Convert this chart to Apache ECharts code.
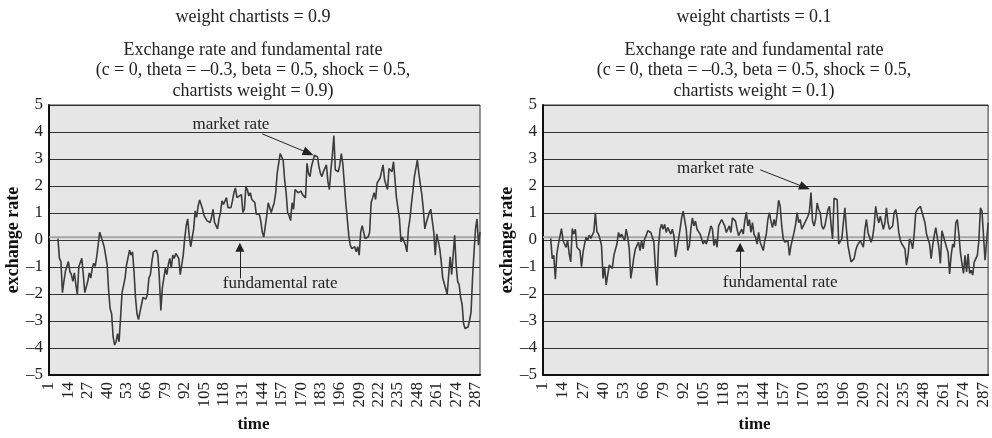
<!DOCTYPE html>
<html><head><meta charset="utf-8">
<script src="https://cdn.jsdelivr.net/npm/echarts@6/dist/echarts.min.js"></script>
<style>html,body{margin:0;padding:0;background:#fff}#c{width:992px;height:438px}</style>
</head><body><div id="c"></div>
<script>
// time axis categories (1..290)
const timeCategories = [];
for (let k = 1; k <= 290; k++) timeCategories.push(String(k));

// chart 1: weight chartists = 0.9  (time index is zero-based position on the time axis)
const leftTimeIdx = [6,7,8,9,10,11,13,14,15,16,17,18,19,20,21,22,23,24,25,26,27,28,29,30,31,32,34,35,36,37,38,39,40,41,42,43,44,45,46,47,48,49,50,51,52,53,54,55,56,57,58,59,60,61,63,64,65,66,67,68,69,70,72,73,74,75,76,77,78,79,80,81,82,83,84,85,86,87,88,89,90,91,92,93,94,95,96,97,98,99,100,101,102,103,104,106,107,108,109,110,111,112,113,114,115,116,117,119,120,121,122,123,124,125,126,127,129,130,131,132,133,134,135,136,138,139,140,141,142,143,144,
145,146,147,148,149,150,151,152,153,154,155,157,158,159,160,161,162,163,164,165,167,168,169,170,171,172,173,174,175,176,177,178,179,180,181,182,183,184,186,187,188,189,190,191,192,193,194,195,196,197,198,199,200,201,202,203,205,206,207,208,209,210,211,212,214,215,216,217,218,219,220,221,222,224,225,226,227,228,229,230,231,233,234,235,236,237,238,239,240,241,242,243,244,245,247,248,249,250,251,252,253,254,255,256,258,259,260,261,262,263,264,265,267,268,269,270,271,272,273,274,275,276,277,278,279,281,282,283,284,285,286,287,288,289];
const leftMarketRate = [0.05,-0.68,-0.80,-1.95,-1.53,-1.16,-0.80,-1.16,-1.28,-1.53,-1.22,-1.65,-2.01,-0.98,-0.92,-0.68,-1.28,-1.95,-1.89,-1.53,-1.22,-1.41,-1.04,-0.86,-0.98,-0.62,0.29,0.11,0.11,-0.25,-0.32,-0.92,-1.89,-2.55,-2.73,-3.59,-3.89,-3.77,-3.47,-3.77,-2.86,-1.95,-1.89,-1.41,-0.92,-0.92,-0.38,-0.56,-0.44,-1.16,-2.13,-2.73,-2.95,-2.67,-2.13,-2.07,-2.19,-2.01,-1.41,-1.28,-0.80,-0.44,-0.38,-0.56,-1.41,-2.61,-1.77,-1.41,-1.04,-1.28,-0.92,-0.68,-1.04,-0.56,-0.68,-0.50,-0.56,-0.68,-1.28,-1.22,-0.56,0.05,0.53,0.78,0.17,-0.25,-0.32,0.41,1.08,0.84,1.26,1.48,1.45,1.14,0.90,0.71,0.78,0.65,0.84,1.14,0.65,0.53,0.41,0.78,1.02,1.45,1.32,1.57,1.20,1.26,1.20,1.45,1.75,1.93,1.57,1.50,1.68,1.02,1.14,1.96,1.87,1.63,1.75,1.50,1.39,0.96,0.90,0.96,0.71,0.29,0.11,
0.17,0.90,1.38,1.32,1.02,1.20,1.38,1.75,2.47,2.84,3.20,2.96,2.23,1.75,1.02,0.90,0.72,1.38,1.14,1.87,1.75,1.75,1.81,1.68,1.75,1.56,2.84,2.47,2.35,2.72,2.72,3.14,3.20,3.08,2.72,2.47,2.35,2.53,2.78,2.17,1.87,2.59,3.14,3.87,2.59,2.53,2.53,2.78,3.20,2.84,2.11,1.38,0.78,0.17,-0.19,-0.32,-0.25,-0.44,-0.25,-0.56,0.29,0.53,0.29,0.05,0.11,0.29,1.38,1.56,1.75,1.50,2.11,2.05,2.29,2.78,2.23,2.05,1.87,2.65,2.72,2.53,2.90,1.56,1.50,0.78,-0.07,0.11,0.05,-0.19,-0.44,0.41,0.78,1.32,1.81,2.35,2.96,2.47,2.05,1.68,1.14,0.41,0.65,0.65,1.02,1.14,0.29,-0.56,0.23,0.23,-0.32,-0.80,-1.41,-1.35,-2.01,-1.28,-0.62,-1.28,-0.56,0.17,-0.92,-1.53,-1.65,-2.13,-2.38,-3.10,-3.28,-3.22,-2.98,-2.68,-1.41,-0.44,0.41,0.78,-0.19,0.29];
// fundamental rate: constant, shown from first to last time step
const fundamentalTimeIdx = [0, 289];
const leftFundamentalRate = [0.1, 0.1];

// chart 2: weight chartists = 0.1
const rightTimeIdx = [5,6,7,8,9,10,12,13,14,15,16,17,18,19,20,21,22,24,25,26,27,28,29,30,31,32,33,34,35,36,37,38,39,40,41,42,43,44,45,46,48,49,50,51,52,53,54,55,56,57,58,59,60,62,63,64,65,66,67,68,69,70,71,72,73,74,75,76,77,78,79,80,81,82,83,84,85,86,87,89,90,91,92,93,94,95,96,97,98,99,100,102,103,104,105,106,107,108,109,110,111,112,113,114,116,117,118,119,120,121,122,123,124,125,126,127,129,130,131,132,133,134,135,136,137,138,139,140,141,143,144,145,
146,147,148,149,150,151,152,153,154,155,156,157,159,160,161,162,163,164,165,166,167,168,169,170,172,173,174,175,176,177,178,179,180,181,182,183,184,185,186,187,188,189,190,191,192,194,195,196,197,198,199,200,201,202,203,204,205,206,208,209,210,211,212,213,214,215,216,217,218,219,221,222,223,224,225,226,227,228,229,230,231,232,233,235,236,237,238,239,240,241,242,243,244,245,246,248,249,250,251,252,253,254,255,256,257,258,259,260,262,263,264,265,266,267,268,269,270,271,272,273,274,275,276,277,278,279,280,281,282,283,284,285,286,287,289];
const rightMarketRate = [0.06,-0.69,-0.57,-1.45,-0.51,-0.15,0.42,-0.02,-0.15,-0.27,-0.02,-0.51,-0.81,0.42,0.22,0.40,-0.27,-0.39,-0.99,-0.45,-0.15,0.10,-0.02,0.18,0.06,0.01,0.30,1.01,0.30,0.22,0.04,-0.21,-1.42,-0.99,-1.66,-1.30,-0.93,-0.87,-1.05,-0.57,-0.15,0.28,0.10,0.22,0.28,-0.02,0.40,0.10,-0.33,-1.42,-1.05,-0.63,-0.33,-0.08,-0.39,-0.02,-0.33,0.04,0.16,0.34,0.40,0.28,0.10,-0.08,-1.05,-1.68,-0.21,0.40,0.58,0.40,0.58,0.28,0.46,0.52,0.22,0.40,0.16,-0.63,-0.33,0.40,0.82,1.07,1.01,0.40,-0.39,-0.21,0.40,0.82,0.52,0.70,0.40,0.22,0.04,-0.15,-0.02,-0.15,0.04,0.04,0.52,0.40,-0.21,0.04,-0.27,0.52,0.76,0.82,0.52,0.28,0.34,0.52,0.28,0.82,0.88,0.70,0.40,0.16,0.40,0.22,0.70,1.03,0.52,0.76,0.28,0.64,0.22,0.10,-0.15,0.28,-0.08,-0.39,-0.02,0.22,
0.76,1.01,0.70,0.46,0.76,0.52,0.95,1.47,1.25,0.52,0.04,-0.08,-0.02,-0.57,-0.21,-0.15,0.28,0.58,1.01,0.64,0.76,0.40,0.52,0.46,0.88,1.07,1.76,0.70,0.52,0.76,1.37,1.13,1.01,0.52,0.40,0.52,0.82,1.13,1.25,0.58,0.04,1.55,1.55,1.49,-0.15,0.04,0.64,1.19,0.40,-0.21,-0.51,-0.81,-0.87,-0.69,-0.39,-0.21,-0.27,-0.02,-0.27,0.40,0.76,0.28,0.10,-0.08,0.10,0.52,1.25,0.88,0.64,0.88,0.40,0.64,1.19,0.64,0.40,0.34,0.52,1.01,1.13,0.82,0.28,-0.02,-0.15,-0.33,-0.93,-0.57,0.04,-0.08,-0.33,0.22,1.01,1.13,1.07,1.25,1.31,0.64,0.22,0.04,-0.15,-0.69,-0.21,0.16,0.46,0.40,-0.27,-0.87,0.34,0.28,-0.27,-0.45,-1.26,-0.57,-0.15,-0.27,0.64,0.76,0.22,-0.45,-0.87,-1.24,-0.57,-1.18,-0.51,-1.24,-1.12,-1.30,-0.81,-0.75,-0.57,-0.02,1.19,1.07,1.07,-0.75,0.64];
const rightFundamentalRate = [0.1, 0.1];

const yTicks = { min: -5, max: 5, interval: 1 };
const FONT = '"Liberation Serif", "Times New Roman", serif';

function pairs(t, v) { return t.map((x, k) => [x, v[k]]); }

function xAxis(gi) {
  return {
    type: 'category', gridIndex: gi, data: timeCategories, boundaryGap: false,
    name: 'time', nameLocation: 'middle', nameGap: 41,
    nameTextStyle: { fontFamily: FONT, fontWeight: 'bold', fontSize: 17, color: '#111', padding: [0, 22, 0, 0] },
    axisLine: { show: true, onZero: false, lineStyle: { color: '#111', width: 2 } },
    axisTick: { show: false },
    axisLabel: { interval: 12, rotate: 90, margin: 7, fontFamily: FONT, fontSize: 17, color: '#222' },
    splitLine: { show: false }
  };
}
function yAxis(gi) {
  return {
    type: 'value', gridIndex: gi, min: yTicks.min, max: yTicks.max, interval: yTicks.interval,
    name: 'exchange rate', nameLocation: 'middle', nameGap: 27, nameRotate: 90,
    nameTextStyle: { fontFamily: FONT, fontWeight: 'bold', fontSize: 18, color: '#111' },
    axisLine: { show: true, onZero: false, lineStyle: { color: '#111', width: 2 } },
    axisTick: { show: false },
    axisLabel: { margin: 6, fontFamily: FONT, fontSize: 17, color: '#222',
      formatter: v => String(v).replace('-', '\u2013') },
    splitLine: { show: true, lineStyle: { color: '#333333', width: 1.2 } }
  };
}
function labelPoint(coord, text) {
  return { coord, symbol: 'rect', symbolSize: 1, itemStyle: { color: 'rgba(0,0,0,0)' },
    label: { show: true, position: 'inside', formatter: text, fontFamily: FONT, fontSize: 17, color: '#222' } };
}
function arrow(from, to, size) {
  return [
    { coord: from, symbol: 'none' },
    { coord: to, symbol: 'triangle', symbolSize: size }
  ];
}
function fundamentalSeries(gi, v) {
  return {
    type: 'line', name: 'fundamental rate', xAxisIndex: gi, yAxisIndex: gi,
    data: pairs(fundamentalTimeIdx, v), showSymbol: false, symbol: 'none', silent: true, z: 2,
    lineStyle: { color: '#a6a6a6', width: 2 }
  };
}
function marketSeries(gi, t, v, ann) {
  return {
    type: 'line', name: 'market rate', xAxisIndex: gi, yAxisIndex: gi, data: pairs(t, v),
    showSymbol: false, symbol: 'none', silent: true, z: 3,
    lineStyle: { color: '#3c3c3c', width: 1.6 },
    markLine: {
      silent: true, symbol: ['none', 'none'], label: { show: false },
      lineStyle: { color: '#222', width: 1, type: 'solid' },
      data: [
        arrow(ann.mFrom, ann.mTo, [9, 11]),
        arrow(ann.fFrom, ann.fTo, [9, 9])
      ]
    },
    markPoint: {
      silent: true,
      data: [labelPoint(ann.mText, 'market rate'), labelPoint(ann.fText, 'fundamental rate')]
    }
  };
}

const chart = echarts.init(document.getElementById('c'), null, { renderer: 'canvas' });
chart.setOption({
  animation: false,
  backgroundColor: '#ffffff',
  textStyle: { fontFamily: FONT },
  title: [
    { text: 'weight chartists = 0.9', left: 248, top: 3, textAlign: 'center',
      textStyle: { fontFamily: FONT, fontWeight: 'normal', fontSize: 18, color: '#222' } },
    { text: 'Exchange rate and fundamental rate\n(c = 0, theta = \u20130.3, beta = 0.5, shock = 0.5,\nchartists weight = 0.9)',
      left: 248, top: 35, textAlign: 'center',
      textStyle: { fontFamily: FONT, fontWeight: 'normal', fontSize: 18, lineHeight: 20.5, color: '#222' } },
    { text: 'weight chartists = 0.1', left: 749, top: 3, textAlign: 'center',
      textStyle: { fontFamily: FONT, fontWeight: 'normal', fontSize: 18, color: '#222' } },
    { text: 'Exchange rate and fundamental rate\n(c = 0, theta = \u20130.3, beta = 0.5, shock = 0.5,\nchartists weight = 0.1)',
      left: 749, top: 35, textAlign: 'center',
      textStyle: { fontFamily: FONT, fontWeight: 'normal', fontSize: 18, lineHeight: 20.5, color: '#222' } }
  ],
  grid: [
    { left: 49, top: 105, width: 431, height: 276, show: true, backgroundColor: '#e6e6e6', borderColor: '#333', borderWidth: 1 },
    { left: 543, top: 105, width: 446, height: 274, show: true, backgroundColor: '#e6e6e6', borderColor: '#333', borderWidth: 1 }
  ],
  xAxis: [xAxis(0), xAxis(1)],
  yAxis: [yAxis(0), yAxis(1)],
  series: [
    fundamentalSeries(0, leftFundamentalRate),
    marketSeries(0, leftTimeIdx, leftMarketRate, {
      mText: [122, 4.29], mFrom: [143, 3.93], mTo: [174, 3.22],
      fText: [155, -1.62], fFrom: [128, -1.42], fTo: [128, -0.27]
    }),
    fundamentalSeries(1, rightFundamentalRate),
    marketSeries(1, rightTimeIdx, rightMarketRate, {
      mText: [112, 2.66], mFrom: [141, 2.6], mTo: [170, 1.95],
      fText: [154, -1.57], fFrom: [128, -1.42], fTo: [128, -0.27]
    })
  ]
});
</script></body></html>
